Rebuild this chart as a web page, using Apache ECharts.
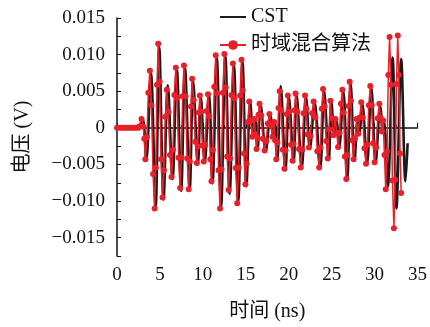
<!DOCTYPE html>
<html>
<head>
<meta charset="utf-8">
<script src="https://cdn.jsdelivr.net/npm/echarts@6/dist/echarts.min.js"></script>
<style>
  html, body { margin: 0; padding: 0; background: #fff; }
  #main { width: 430px; height: 327px; }
</style>
</head>
<body>
<div id="main"></div>
<script>
// time axis (ns) and voltage (V)
const cstT = [
  0, 2.6, 2.95, 3.15, 3.42, 3.95, 4.5, 4.92, 5.42, 5.92,
  6.47, 6.97, 7.47, 7.92, 8.47, 8.87, 9.42, 9.77, 10.22, 10.72,
  11.12, 11.62, 12.12, 12.62, 13.12, 13.62, 14.12, 14.62, 15.07, 15.52,
  15.87, 16.12, 16.37, 16.72, 17.32, 17.87, 18.22, 18.42, 18.67, 19.07,
  19.62, 20.02, 20.57, 20.92, 21.52, 22.02, 22.47, 23.02, 23.67, 24.12,
  24.67, 24.97, 25.32, 25.57, 25.87, 26.37, 26.82, 27.22, 27.67, 28.02,
  28.22, 28.57, 29.12, 29.62, 30.12, 30.67, 30.97, 31.12, 31.55, 32.1,
  32.55, 33.1, 33.6, 33.85
];
const cstV = [
  0, 0, 0.0013, 0.0003, -0.0045, 0.0075, -0.0108, 0.011, -0.0098, 0.0058,
  -0.007, 0.008, -0.0086, 0.0082, -0.0083, 0.0064, -0.005, 0.0042, -0.0048, 0.0046,
  -0.0076, 0.0096, -0.0108, 0.0098, -0.009, 0.0085, -0.01, 0.009, -0.008, 0.0035,
  -0.001, 0.001, -0.003, 0.0032, -0.0032, 0.0018, -0.001, 0.0006, -0.0045, 0.0057,
  -0.0058, 0.0042, -0.0047, 0.0045, -0.0055, 0.0042, -0.0028, 0.0035, -0.0056, 0.0051,
  -0.0044, 0.0035, -0.001, 0.001, -0.0028, 0.005, -0.0072, 0.006, -0.0045, 0.001,
  -0.0008, 0.0033, -0.005, 0.0055, -0.0048, 0.003, -0.0004, 0.0008, -0.008, 0.0096,
  -0.011, 0.0094, -0.0073, -0.0021
];

const hybT = [
  0, 0.25, 0.5, 0.75, 1, 1.25, 1.5, 1.75, 2, 2.25, 2.5,
  2.6, 2.85, 3.05, 3.18, 3.3, 3.48, 3.65, 3.83,
  4.01, 4.2, 4.38, 4.52, 4.66, 4.8, 4.97, 5.13, 5.3, 5.47, 5.63, 5.8,
  5.98, 6.17, 6.35, 6.52, 6.68, 6.85, 7.02, 7.18, 7.35, 7.5, 7.65, 7.8,
  7.98, 8.17, 8.35, 8.48, 8.62, 8.75, 8.93, 9.12, 9.3, 9.42, 9.53, 9.65,
  9.8, 9.95, 10.1, 10.27, 10.43, 10.6, 10.73, 10.87, 11, 11.17, 11.33, 11.5,
  11.67, 11.83, 12, 12.17, 12.33, 12.5, 12.67, 12.83, 13, 13.17, 13.33, 13.5,
  13.67, 13.83, 14, 14.17, 14.33, 14.5, 14.65, 14.8, 14.95, 15.1, 15.25, 15.4,
  15.57, 15.75, 16, 16.12, 16.25, 16.37, 16.48, 16.6, 16.8, 17, 17.2, 17.38, 17.57, 17.75,
  17.92, 18.1, 18.3, 18.42, 18.55, 18.68, 18.82, 18.95, 19.13, 19.32, 19.5, 19.63, 19.77, 19.9,
  20.08, 20.27, 20.45, 20.57, 20.68, 20.8, 21, 21.2, 21.4, 21.57, 21.73, 21.9,
  22.05, 22.2, 22.35, 22.53, 22.72, 22.9, 23.12, 23.33, 23.55, 23.7, 23.85, 24,
  24.18, 24.37, 24.55, 24.7, 24.85, 25.02, 25.2, 25.45, 25.6, 25.75, 25.92, 26.08, 26.25,
  26.4, 26.55, 26.7, 26.83, 26.97, 27.1, 27.25, 27.4, 27.55, 27.72, 27.9, 28.1, 28.27, 28.45,
  28.63, 28.82, 29, 29.17, 29.33, 29.5, 29.67, 29.83, 30, 30.18, 30.37, 30.55,
  30.7, 30.85, 31, 31.15, 31.3, 31.45, 31.6, 31.75, 31.92, 32.08, 32.25, 32.4, 32.55, 32.7, 32.83, 32.97, 33.1
];
const hybV = [
  0, 0, 0, 0, 0, 0, 0, 0, 0, 0, 0,
  0.0002, 0.0012, 0.0002, -0.0015, -0.0043, -0.0013, 0.0048, 0.0078,
  0.0031, -0.0063, -0.011, -0.0054, 0.0059, 0.0115, 0.0063, -0.0043, -0.0095, -0.0058, 0.0015, 0.0052,
  0.0022, -0.0037, -0.0067, -0.003, 0.0045, 0.0082, 0.0041, -0.0041, -0.0082, -0.004, 0.0043, 0.0085,
  0.0043, -0.0042, -0.0084, -0.0046, 0.0029, 0.0067, 0.0038, -0.0019, -0.0048, -0.0025, 0.0021, 0.0044,
  0.0022, -0.0024, -0.0046, -0.0023, 0.0023, 0.0046, 0.0016, -0.0043, -0.0073, -0.003, 0.0056, 0.0099,
  0.0047, -0.0058, -0.011, -0.0057, 0.0048, 0.0101, 0.0055, -0.0039, -0.0085, -0.0042, 0.0045, 0.0088,
  0.004, -0.0055, -0.0103, -0.0054, 0.0044, 0.0093, 0.0051, -0.0035, -0.0077, -0.0049, 0.0008, 0.0036,
  0.001, -0.0012, 0.0012, -0.0009, -0.0029, -0.0014, 0.0018, 0.0033, 0.0017, -0.0015, -0.0031, -0.0018, 0.0006, 0.0019,
  0.0003, -0.0012, 0.0008, -0.0017, -0.0043, -0.002, 0.0027, 0.005, 0.0024, -0.003, -0.0056, -0.0031, 0.0019, 0.0044,
  0.0022, -0.0023, -0.0045, -0.0022, 0.0024, 0.0047, 0.0022, -0.0029, -0.0054, -0.003, 0.002, 0.0044,
  0.0026, -0.0009, -0.0027, -0.0011, 0.002, 0.0036, 0.0014, -0.0032, -0.0054, -0.0027, 0.0026, 0.0053,
  0.0029, -0.0018, -0.0042, -0.0002, 0.0037, 0.0013, -0.001, 0.0012, -0.0007, -0.0026, -0.0007, 0.0033, 0.0052,
  0.0021, -0.0039, -0.007, -0.0037, 0.003, 0.0063, 0.0037, -0.0017, -0.0043, -0.0015, 0.0012, -0.0008, 0.0014, 0.0035,
  0.0014, -0.0028, -0.0049, -0.0023, 0.0031, 0.0057, 0.0031, -0.0021, -0.0047, -0.0027, 0.0013, 0.0033,
  0.0014, -0.0005, 0.001, -0.0037, -0.0084, -0.0032, 0.0072, 0.0124, 0.0059, -0.0072, -0.0137, -0.0071, 0.006, 0.0126, 0.0072, -0.0035, -0.0089
];

const seriesNames = ['CST', '时域混合算法'];

const zip = (ts, vs) => ts.map((t, i) => [t, vs[i]]);
const font = "'Liberation Serif', 'Noto Sans CJK SC', serif";

let chart = echarts.init(document.getElementById('main'));
let option = {
    animation: false,
    textStyle: {fontFamily: font, color: '#111'},
    grid: {left: 117, right: 12, top: 18, bottom: 71},
    legend: {
        orient: 'vertical',
        left: 214,
        top: 2,
        itemWidth: 26,
        itemHeight: 12,
        itemGap: 8,
        textStyle: {fontFamily: font, fontSize: 20, color: '#111'},
        data: [
            {name: seriesNames[0], itemStyle: {opacity: 0}},
            {name: seriesNames[1]}
        ]
    },
    xAxis: {
        type: 'value',
        min: 0,
        max: 35,
        interval: 5,
        name: '时间 (ns)',
        nameLocation: 'middle',
        nameGap: 46,
        nameTextStyle: {fontFamily: font, fontSize: 20, color: '#111'},
        axisLine: {lineStyle: {color: '#111', width: 1.5}},
        axisTick: {inside: true, length: 5, lineStyle: {color: '#111'}},
        minorTick: {show: true, splitNumber: 2, length: 3, lineStyle: {color: '#111'}},
        axisLabel: {fontFamily: font, fontSize: 19, color: '#111', margin: 10},
        splitLine: {show: false}
    },
    yAxis: {
        type: 'value',
        min: -0.0175,
        max: 0.015,
        interval: 0.0025,
        name: '电压 (V)',
        nameLocation: 'middle',
        nameGap: 84,
        nameTextStyle: {fontFamily: font, fontSize: 20, color: '#111'},
        axisLine: {show: true, lineStyle: {color: '#111', width: 1.5}},
        axisTick: {show: true, inside: true, length: 4, lineStyle: {color: '#111'}},
        axisLabel: {
            fontFamily: font, fontSize: 19, color: '#111', margin: 12,
            formatter: function (v) {
                let k = Math.round(v / 0.0025);
                if (k % 2 !== 0) return '';
                if (k === 0) return '0';
                let s = Math.abs(v).toFixed(3);
                return v < 0 ? '\u2212' + s : s;
            }
        },
        splitLine: {show: false}
    },
    series: [
        {
            name: seriesNames[0],
            type: 'line',
            data: zip(cstT, cstV),
            symbol: 'none',
            smooth: 0.35,
            lineStyle: {color: '#1a1a1a', width: 2.6},
            itemStyle: {color: '#1a1a1a'},
            z: 2
        },
        {
            name: seriesNames[1],
            type: 'line',
            data: zip(hybT, hybV),
            symbol: 'circle',
            symbolSize: 6,
            showAllSymbol: true,
            lineStyle: {color: '#e8202a', width: 1.5},
            itemStyle: {color: '#e8202a'},
            z: 3
        }
    ]
};
chart.setOption(option);
</script>
</body>
</html>
